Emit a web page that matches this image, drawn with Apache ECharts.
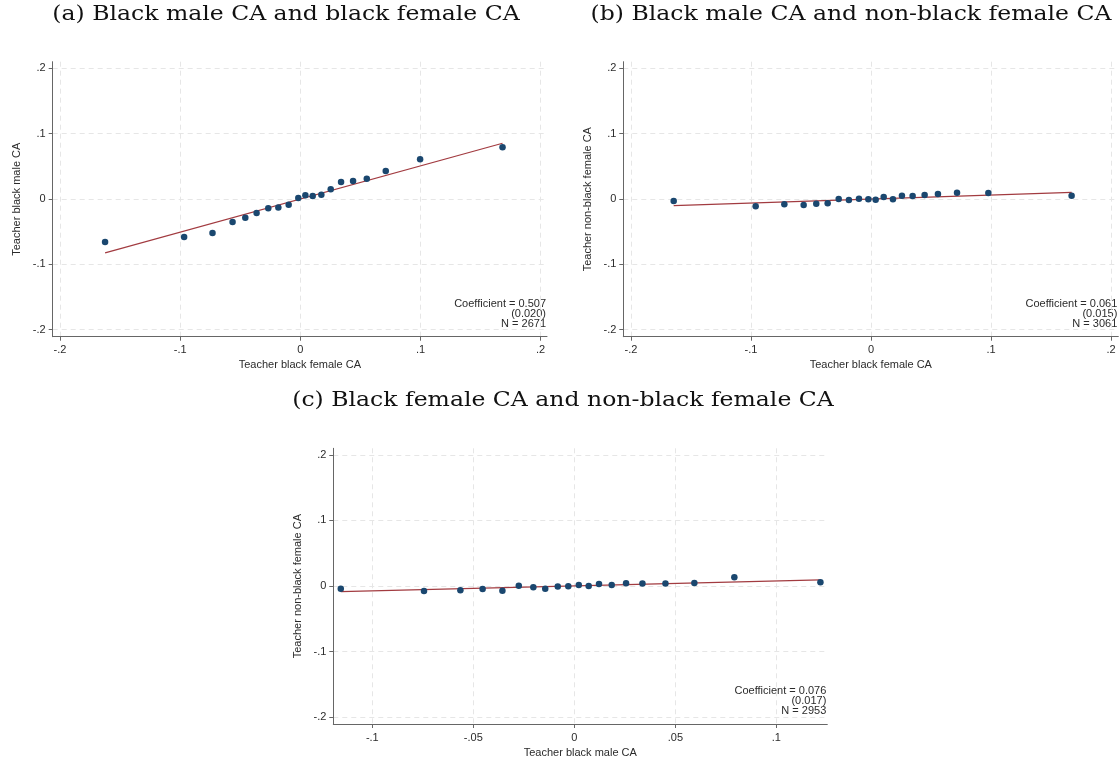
<!DOCTYPE html>
<html>
<head>
<meta charset="utf-8">
<script src="https://cdn.jsdelivr.net/npm/echarts@6/dist/echarts.min.js"></script>
<style>
  html, body { margin: 0; padding: 0; background: #ffffff; }
  #chart { width: 1119px; height: 761px; }
</style>
</head>
<body>
<div id="chart"></div>
<script>
// Binned scatter points (20 bins per panel)
const aX = [-0.1625, -0.0967, -0.0731, -0.0564, -0.0458, -0.0364, -0.0267, -0.0183, -0.0097, -0.0017, 0.0042, 0.0103, 0.0175, 0.0253, 0.0339, 0.0439, 0.0553, 0.0711, 0.0997, 0.1683];
const aY = [-0.0658, -0.0582, -0.0521, -0.0352, -0.0286, -0.0214, -0.0143, -0.0130, -0.0087, 0.0015, 0.0056, 0.0046, 0.0066, 0.0148, 0.0260, 0.0276, 0.0311, 0.0429, 0.0608, 0.0791];

const bX = [-0.1644, -0.0961, -0.0722, -0.0561, -0.0456, -0.0361, -0.0269, -0.0184, -0.0100, -0.0022, 0.0039, 0.0106, 0.0183, 0.0258, 0.0347, 0.0447, 0.0558, 0.0717, 0.0978, 0.1672];
const bY = [-0.0031, -0.0112, -0.0082, -0.0092, -0.0071, -0.0066, 0.0000, -0.0017, 0.0005, -0.0005, -0.0010, 0.0031, -0.0005, 0.0051, 0.0046, 0.0061, 0.0077, 0.0097, 0.0092, 0.0051];

const cX = [-0.1156, -0.0744, -0.0564, -0.0454, -0.0356, -0.0275, -0.0203, -0.0144, -0.0082, -0.0030, 0.0022, 0.0071, 0.0122, 0.0185, 0.0256, 0.0337, 0.0451, 0.0594, 0.0792, 0.1218];
const cY = [-0.0041, -0.0077, -0.0066, -0.0046, -0.0072, 0.0005, -0.0020, -0.0041, -0.0010, -0.0005, 0.0015, 0.0000, 0.0031, 0.0015, 0.0041, 0.0036, 0.0036, 0.0046, 0.0133, 0.0056];

// Linear fit: slope, standard error, intercept, sample size
const coefs = [0.507, 0.061, 0.076];
const stdErrs = ['0.020', '0.015', '0.017'];
const intercepts = [0.000, 0.000, 0.000];
const sampleN = [2671, 3061, 2953];

// Panel captions and axis titles
const captions = [
  '(a) Black male CA and black female CA',
  '(b) Black male CA and non-black female CA',
  '(c) Black female CA and non-black female CA'
];
const xTitles = ['Teacher black female CA', 'Teacher black female CA', 'Teacher black male CA'];
const yTitles = ['Teacher black male CA', 'Teacher non-black female CA', 'Teacher non-black female CA'];

// Tick values
const yTicks = [-0.2, -0.1, 0, 0.1, 0.2];
const xTicksAB = [-0.2, -0.1, 0, 0.1, 0.2];
const xTicksC = [-0.1, -0.05, 0, 0.05, 0.1];

const MARKER = '#1a476f';
const FIT = '#a23b40';
const TEXT = '#2b2b2b';
const AXIS = '#666666';
const SANS = '"Liberation Sans", Arial, sans-serif';
const SERIF = '"DejaVu Serif", "Liberation Serif", serif';

function fmt(v) {
  if (v === 0) return '0';
  const s = String(Math.abs(+v.toFixed(4))).replace(/^0/, '');
  return (v < 0 ? '-' : '') + s;
}

const panels = [
  { xs: aX, ys: aY, xMin: -0.2061, xMax: 0.2053, xTicks: xTicksAB,
    grid: { left: 52.7, top: 61.7, width: 494.3, height: 275 } },
  { xs: bX, ys: bY, xMin: -0.2064, xMax: 0.2061, xTicks: xTicksAB,
    grid: { left: 623.3, top: 61.7, width: 495, height: 275 } },
  { xs: cX, ys: cY, xMin: -0.1193, xMax: 0.1252, xTicks: xTicksC,
    grid: { left: 333.3, top: 448.3, width: 494, height: 275.7 } }
];

const grids = [], xAxes = [], yAxes = [], series = [], graphics = [];

panels.forEach((p, i) => {
  grids.push(Object.assign({ containLabel: false }, p.grid));

  const splitLine = { show: true, lineStyle: { color: '#e6e6e6', type: [5, 4], width: 1 } };

  xAxes.push({
    type: 'value', gridIndex: i, min: p.xMin, max: p.xMax,
    name: xTitles[i], nameLocation: 'middle', nameGap: 23,
    nameTextStyle: { color: TEXT, fontFamily: SANS, fontSize: 11 },
    axisLine: { show: true, onZero: false, lineStyle: { color: AXIS, width: 1 } },
    axisTick: { show: true, length: 4, lineStyle: { color: AXIS }, customValues: p.xTicks },
    axisLabel: { customValues: p.xTicks, formatter: fmt, color: TEXT, fontFamily: SANS, fontSize: 11, margin: 8 },
    splitLine: splitLine
  });

  yAxes.push({
    type: 'value', gridIndex: i, min: -0.2107, max: 0.2101,
    name: yTitles[i], nameLocation: 'middle', nameGap: 30, nameRotate: 90,
    nameTextStyle: { color: TEXT, fontFamily: SANS, fontSize: 11 },
    axisLine: { show: true, onZero: false, lineStyle: { color: AXIS, width: 1 } },
    axisTick: { show: true, length: 4, lineStyle: { color: AXIS }, customValues: yTicks },
    axisLabel: { customValues: yTicks, formatter: fmt, color: TEXT, fontFamily: SANS, fontSize: 11, margin: 7 },
    splitLine: splitLine
  });

  series.push({
    type: 'scatter', xAxisIndex: i, yAxisIndex: i,
    data: p.xs.map((x, k) => [x, p.ys[k]]),
    symbol: 'circle', symbolSize: 6.5,
    itemStyle: { color: MARKER, opacity: 1 },
    z: 3
  });

  const lo = Math.min(...p.xs), hi = Math.max(...p.xs);
  series.push({
    type: 'line', xAxisIndex: i, yAxisIndex: i,
    data: [[lo, intercepts[i] + coefs[i] * lo], [hi, intercepts[i] + coefs[i] * hi]],
    showSymbol: false, symbol: 'none',
    lineStyle: { color: FIT, width: 1.2 },
    z: 2
  });

  // regression summary, bottom-right corner of each plot
  const right = p.grid.left + p.grid.width - 1;
  const bottom = p.grid.top + p.grid.height;
  const lines = ['Coefficient = ' + coefs[i].toFixed(3), '(' + stdErrs[i] + ')', 'N = ' + sampleN[i]];
  lines.forEach((t, k) => {
    graphics.push({
      type: 'text', x: right, y: bottom - 33 + k * 10,
      style: { text: t, fill: TEXT, font: '11px ' + SANS, textAlign: 'right', textVerticalAlign: 'middle' }
    });
  });
});

const captionPos = [[286, 15], [851, 15], [563, 401]];
captions.forEach((c, i) => {
  graphics.push({
    type: 'text', x: captionPos[i][0], y: captionPos[i][1], scaleX: 1.12,
    style: { text: c, fill: '#111111', font: '21px ' + SERIF, textAlign: 'center', textVerticalAlign: 'middle' }
  });
});

const chart = echarts.init(document.getElementById('chart'), null, { renderer: 'canvas' });
chart.setOption({
  backgroundColor: '#ffffff',
  animation: false,
  grid: grids,
  xAxis: xAxes,
  yAxis: yAxes,
  series: series,
  graphic: graphics
});
</script>
</body>
</html>
